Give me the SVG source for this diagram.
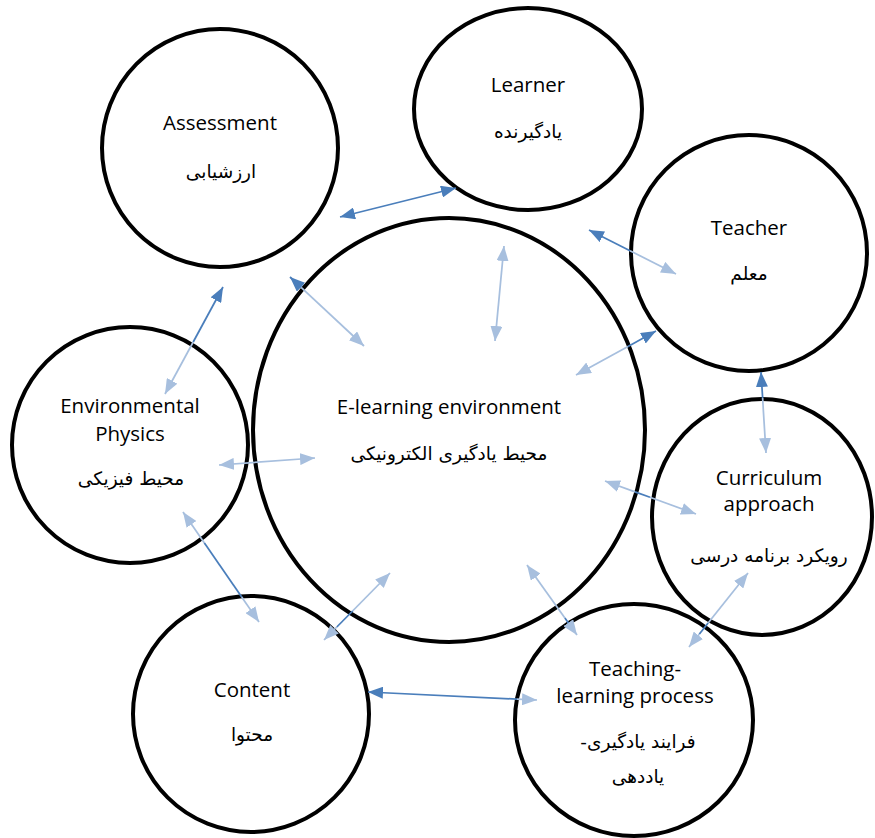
<svg xmlns="http://www.w3.org/2000/svg" width="875" height="838" viewBox="0 0 875 838">
<style>
.c{fill:#fff;stroke:#000;stroke-width:4}
.t{font-family:"Open Sans","Noto Sans","Liberation Sans",sans-serif;font-size:20.5px;fill:#000;text-anchor:middle}
.p{font-family:"DejaVu Sans","Noto Sans",sans-serif;font-size:18.5px;fill:#000;text-anchor:middle}
.d{stroke:#4a7ebb;stroke-width:1.75;fill:none}
.l{stroke:#a7bfde;stroke-width:1.75;fill:none}
</style>
<defs>
<marker id="hd" markerUnits="userSpaceOnUse" markerWidth="15" markerHeight="12" refX="15" refY="6" orient="auto-start-reverse" viewBox="0 0 15 12"><path d="M0,0L15,6L0,12Z" fill="#4a7ebb"/></marker>
<marker id="hl" markerUnits="userSpaceOnUse" markerWidth="15" markerHeight="12" refX="15" refY="6" orient="auto-start-reverse" viewBox="0 0 15 12"><path d="M0,0L15,6L0,12Z" fill="#a7bfde"/></marker>
</defs>
<rect width="875" height="838" fill="#fff"/>
<g id="assessment"><ellipse class="c" cx="220" cy="148" rx="118" ry="119"/><text class="t" x="220" y="130">Assessment</text><text class="p" x="221" y="178" direction="rtl">ارزشیابی</text></g>
<g id="learner"><ellipse class="c" cx="528" cy="109" rx="114" ry="101"/><text class="t" x="528" y="92">Learner</text><text class="p" x="528" y="138" direction="rtl">یادگیرنده</text></g>
<g id="teacher"><ellipse class="c" cx="749" cy="253" rx="118" ry="118"/><text class="t" x="749" y="235">Teacher</text><text class="p" x="749" y="280" direction="rtl">معلم</text></g>
<g id="elearning"><ellipse class="c" cx="449" cy="430" rx="196" ry="212"/><text class="t" x="449" y="414">E-learning environment</text><text class="p" x="449" y="460" direction="rtl">محیط یادگیری الکترونیکی</text></g>
<g id="envphysics"><ellipse class="c" cx="130" cy="445" rx="118" ry="118"/><text class="t" x="130" y="413">Environmental</text><text class="t" x="130" y="441">Physics</text><text class="p" x="131" y="485" direction="rtl">محیط فیزیکی</text></g>
<g id="curriculum"><ellipse class="c" cx="762" cy="517" rx="110" ry="118"/><text class="t" x="769" y="485">Curriculum</text><text class="t" x="769" y="511">approach</text><text class="p" x="769" y="562" direction="rtl">رویکرد برنامه درسی</text></g>
<g id="content"><ellipse class="c" cx="251" cy="714" rx="118" ry="118"/><text class="t" x="252" y="697">Content</text><text class="p" x="252" y="741" direction="rtl">محتوا</text></g>
<g id="teaching"><ellipse class="c" cx="634" cy="720" rx="119" ry="116"/><text class="t" x="635" y="676">Teaching-</text><text class="t" x="635" y="703">learning process</text><text class="p" x="638" y="748" direction="rtl">فرایند یادگیری-</text><text class="p" x="638" y="783" direction="rtl">یاددهی</text></g>
<g id="connectors">
<line class="d" x1="340" y1="217" x2="456" y2="188" marker-start="url(#hd)" marker-end="url(#hd)"/>
<line class="d" x1="589" y1="230" x2="630" y2="250.7" marker-start="url(#hd)"/>
<line class="l" x1="630" y1="250.7" x2="676" y2="274" marker-end="url(#hl)"/>
<line class="l" x1="504" y1="246" x2="495" y2="341" marker-start="url(#hl)" marker-end="url(#hl)"/>
<line class="d" x1="290" y1="277" x2="301.1" y2="287.4" marker-start="url(#hd)"/>
<line class="l" x1="301.1" y1="287.4" x2="364" y2="346" marker-end="url(#hl)"/>
<line class="l" x1="576" y1="375" x2="628" y2="346.4" marker-start="url(#hl)"/>
<line class="d" x1="628" y1="346.4" x2="656" y2="331" marker-end="url(#hd)"/>
<line class="d" x1="223" y1="287" x2="193.2" y2="342" marker-start="url(#hd)"/>
<line class="l" x1="193.2" y1="342" x2="165" y2="394" marker-end="url(#hl)"/>
<line class="l" x1="219" y1="465" x2="315" y2="458" marker-start="url(#hl)" marker-end="url(#hl)"/>
<line class="l" x1="183" y1="512" x2="204.4" y2="543" marker-start="url(#hl)"/>
<line class="d" x1="204.4" y1="543" x2="241.7" y2="597"/>
<line class="l" x1="241.7" y1="597" x2="259" y2="622" marker-end="url(#hl)"/>
<line class="l" x1="390" y1="573" x2="352.6" y2="611" marker-start="url(#hl)"/>
<line class="d" x1="352.6" y1="611" x2="336.8" y2="627"/>
<line class="l" x1="336.8" y1="627" x2="324" y2="640" marker-end="url(#hl)"/>
<line class="d" x1="368" y1="692" x2="517" y2="699.1" marker-start="url(#hd)"/>
<line class="l" x1="517" y1="699.1" x2="537" y2="700" marker-end="url(#hl)"/>
<line class="l" x1="527" y1="565" x2="564.9" y2="618" marker-start="url(#hl)"/>
<line class="d" x1="564.9" y1="618" x2="571.3" y2="627"/>
<line class="l" x1="571.3" y1="627" x2="577" y2="635" marker-end="url(#hl)"/>
<line class="l" x1="605" y1="481" x2="635" y2="491.9" marker-start="url(#hl)"/>
<line class="d" x1="635" y1="491.9" x2="650" y2="497.3"/>
<line class="l" x1="650" y1="497.3" x2="696" y2="514" marker-end="url(#hl)"/>
<line class="d" x1="761" y1="372" x2="762.6" y2="398" marker-start="url(#hd)"/>
<line class="l" x1="762.6" y1="398" x2="766" y2="453" marker-end="url(#hl)"/>
<line class="l" x1="748" y1="573" x2="708.1" y2="623" marker-start="url(#hl)"/>
<line class="d" x1="708.1" y1="623" x2="699.4" y2="634"/>
<line class="l" x1="699.4" y1="634" x2="689" y2="647" marker-end="url(#hl)"/>
</g>
</svg>
